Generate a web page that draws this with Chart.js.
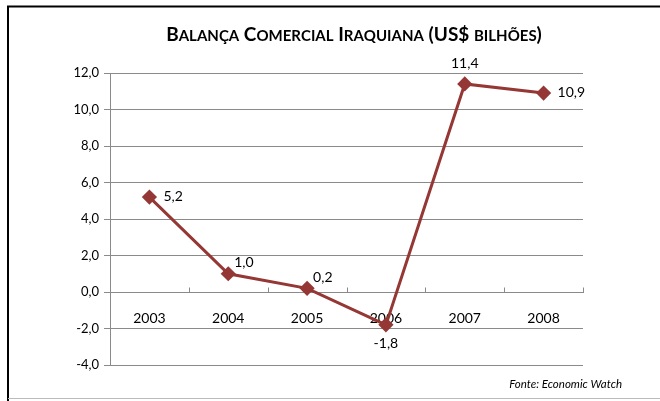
<!DOCTYPE html>
<html>
<head>
<meta charset="utf-8">
<script src="https://cdn.jsdelivr.net/npm/chart.js@4/dist/chart.umd.min.js"></script>
<style>
  html, body { margin: 0; padding: 0; background: #fff; }
  #wrap { width: 660px; height: 401px; position: relative; }
</style>
</head>
<body>
<div id="wrap"><canvas id="chartIraque"></canvas></div>
<script>
const anos = ['2003', '2004', '2005', '2006', '2007', '2008'];
const saldo = [5.2, 1.0, 0.2, -1.8, 11.4, 10.9];
const yMin = -4;
const yMax = 12;
const yStep = 2;
const titulo = 'Balança Comercial Iraquiana (US$ bilhões)';
const fonte = 'Fonte: Economic Watch';

// onde fica o rótulo de cada ponto
const posRotulo = ['right', 'upright', 'upright', 'below', 'above', 'right'];

const FAMILIA = "Lato, 'Open Sans', sans-serif";
const COR_LINHA = '#953735';
const COR_GRADE = '#8a8a8a';

const virgula = (v) => v.toFixed(1).replace('.', ',');

// titulo em versalete, desenhado a mão
const tituloPlugin = {
   id: 'tituloVersalete',
   afterDraw(chart) {
      const ctx = chart.ctx;
      const grande = 'bold 19px ' + FAMILIA;
      const pequeno = 'bold 15px ' + FAMILIA;
      const partes = [];
      for (const ch of titulo) {
         const maiuscula = ch !== ch.toLowerCase() || !/[a-zà-ÿ]/i.test(ch);
         partes.push({ t: ch.toUpperCase(), f: maiuscula ? grande : pequeno });
      }
      let largura = 0;
      partes.forEach(p => { ctx.font = p.f; p.w = ctx.measureText(p.t).width; largura += p.w; });
      let x = 354 - largura / 2;
      ctx.save();
      ctx.fillStyle = '#000';
      ctx.textBaseline = 'alphabetic';
      ctx.textAlign = 'left';
      partes.forEach(p => { ctx.font = p.f; ctx.fillText(p.t, x, 41); x += p.w; });
      ctx.restore();
   }
};

const moldura = {
   id: 'moldura',
   afterDraw(chart) {
      const ctx = chart.ctx;
      ctx.save();
      ctx.strokeStyle = '#000';
      ctx.lineWidth = 2;
      ctx.beginPath();
      ctx.moveTo(8, 401);
      ctx.lineTo(8, 6.5);
      ctx.lineTo(660, 6.5);
      ctx.stroke();
      ctx.strokeStyle = '#bbb';
      ctx.lineWidth = 1;
      ctx.beginPath();
      ctx.moveTo(8, 398.5);
      ctx.lineTo(660, 398.5);
      ctx.stroke();

      ctx.font = 'italic 11.5px ' + FAMILIA;
      ctx.fillStyle = '#000';
      ctx.textAlign = 'right';
      ctx.textBaseline = 'middle';
      ctx.fillText(fonte, 622, 384);
      ctx.restore();
   }
};

// marquinhas entre categorias, para cima da linha do zero
const marcasX = {
   id: 'marcasX',
   beforeDatasetsDraw(chart) {
      const sx = chart.scales.x;
      const y0 = Math.round(chart.scales.y.getPixelForValue(0)) + 0.5;
      const passo = sx.getPixelForValue(1) - sx.getPixelForValue(0);
      const ctx = chart.ctx;
      ctx.save();
      ctx.strokeStyle = COR_GRADE;
      ctx.lineWidth = 1;
      ctx.beginPath();
      for (let i = 0; i <= anos.length; i++) {
         const x = Math.round(sx.getPixelForValue(0) - passo / 2 + i * passo) + 0.5;
         ctx.moveTo(x, y0);
         ctx.lineTo(x, y0 - 5);
      }
      ctx.stroke();
      ctx.restore();
   }
};

const rotulos = {
   id: 'rotulos',
   afterDatasetsDraw(chart) {
      const ctx = chart.ctx;
      const meta = chart.getDatasetMeta(0);
      ctx.save();
      ctx.font = '14px ' + FAMILIA;
      ctx.fillStyle = '#000';
      ctx.textBaseline = 'middle';
      meta.data.forEach((pt, i) => {
         const txt = virgula(saldo[i]);
         let x = pt.x, y = pt.y;
         switch (posRotulo[i]) {
            case 'right': ctx.textAlign = 'left'; x += 14; y -= 1; break;
            case 'upright': ctx.textAlign = 'left'; x += 6; y -= 11; break;
            case 'below': ctx.textAlign = 'center'; x += 0; y += 19; break;
            case 'above': ctx.textAlign = 'center'; y -= 20; break;
         }
         ctx.fillText(txt, x, y);
      });
      ctx.restore();
   }
};

const ctx = document.getElementById('chartIraque').getContext('2d');
new Chart(ctx, {
   type: 'line',
   data: {
      labels: anos,
      datasets: [{
         data: saldo,
         borderColor: COR_LINHA,
         backgroundColor: COR_LINHA,
         borderWidth: 3,
         pointStyle: 'rectRot',
         pointRadius: 5.5,
         pointHoverRadius: 5.5,
         tension: 0
      }]
   },
   options: {
      responsive: true,
      maintainAspectRatio: false,
      animation: false,
      layout: {
         padding: { left: 0, right: 77, top: 73, bottom: 36 }
      },
      plugins: {
         legend: { display: false },
         title: { display: false },
         tooltip: { enabled: false }
      },
      scales: {
         x: {
            position: { y: 0 },
            offset: true,
            border: { color: COR_GRADE, width: 1 },
            grid: { display: false },
            ticks: {
               color: '#000',
               padding: 10,
               font: { family: FAMILIA, size: 14 }
            }
         },
         y: {
            min: yMin,
            max: yMax,
            afterFit: (s) => { s.width = 110; },
            border: { color: COR_GRADE, width: 1 },
            grid: { color: COR_GRADE, tickLength: 6, drawTicks: true },
            ticks: {
               stepSize: yStep,
               color: '#000',
               padding: 5,
               font: { family: FAMILIA, size: 13 },
               callback: (v) => virgula(v)
            }
         }
      }
   },
   plugins: [tituloPlugin, moldura, marcasX, rotulos]
});
</script>
</body>
</html>
